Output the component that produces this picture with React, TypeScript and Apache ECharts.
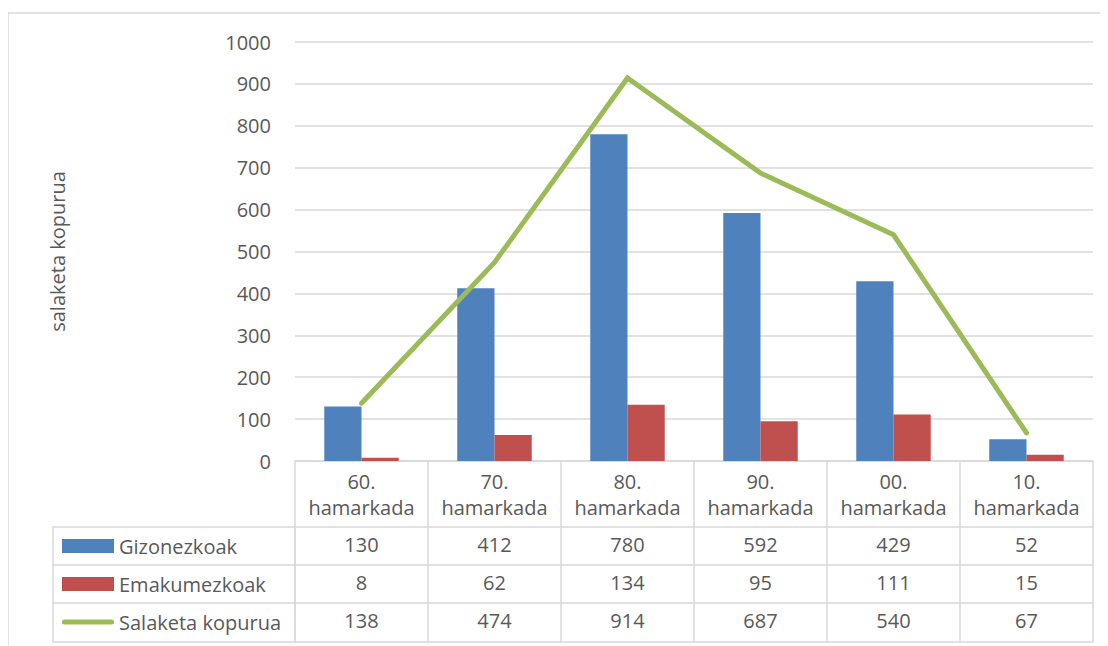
import React, { useEffect, useRef } from "react";
import * as echarts from "echarts";

const categories = ["60.\nhamarkada", "70.\nhamarkada", "80.\nhamarkada", "90.\nhamarkada", "00.\nhamarkada", "10.\nhamarkada"];
const gizonezkoak = [130, 412, 780, 592, 429, 52];
const emakumezkoak = [8, 62, 134, 95, 111, 15];
const salaketaKopurua = [138, 474, 914, 687, 540, 67];
const seriesNames = ["Gizonezkoak", "Emakumezkoak", "Salaketa kopurua"];
const yAxisName = "salaketa kopurua";

const FONT = "'Open Sans', sans-serif";
const TEXT = "#595959";
const GRID = "#D9D9D9";
const BLUE = "#4F81BD";
const RED = "#C0504D";
const GREEN = "#9BBB59";
const LINE_ICON = "path://M2.5,0 L49.5,0 A2.5,2.5 0 0 1 49.5,5 L2.5,5 A2.5,2.5 0 0 1 2.5,0 Z";

export default function App() {
  const ref = useRef<HTMLDivElement>(null);
  useEffect(() => {
    if (!ref.current) return;
    const chart = echarts.init(ref.current, null, { renderer: "svg" });
    const rowAxes = [gizonezkoak, emakumezkoak, salaketaKopurua].map((vals, i) => ({
      type: "category",
      gridIndex: 0,
      position: "bottom",
      offset: 66 + i * 38,
      data: vals.map(String),
      axisLine: { show: true, lineStyle: { color: GRID, width: 1.5 } },
      axisTick: { show: false },
      axisLabel: { color: TEXT, fontFamily: FONT, fontSize: 20, lineHeight: 26, margin: 4, interval: 0 },
    }));
    const bottomAxis = {
      type: "category",
      gridIndex: 0,
      position: "bottom",
      offset: 181,
      data: categories.map(() => ""),
      axisLine: { show: true, lineStyle: { color: GRID, width: 1.5 } },
      axisTick: { show: false },
      axisLabel: { show: false },
    };
    chart.setOption({
      animation: false,
      backgroundColor: "#fff",
      textStyle: { fontFamily: FONT },
      grid: { left: 287, right: 15, top: 34, bottom: 185, containLabel: false },
      legend: {
        orient: "vertical",
        left: 49,
        top: 523,
        itemGap: 18,
        itemWidth: 52,
        itemHeight: 14,
        symbolKeepAspect: true,
        textStyle: { color: TEXT, fontFamily: FONT, fontSize: 20, lineHeight: 20 },
        data: [
          { name: seriesNames[0], icon: "rect" },
          { name: seriesNames[1], icon: "rect" },
          { name: seriesNames[2], icon: LINE_ICON, itemStyle: { color: GREEN } },
        ],
      },
      xAxis: [
        {
          type: "category",
          gridIndex: 0,
          position: "bottom",
          data: categories,
          boundaryGap: true,
          axisLine: { show: true, lineStyle: { color: GRID, width: 1.5 } },
          axisTick: { show: true, interval: 0, length: 181, lineStyle: { color: GRID, width: 1.5 } },
          axisLabel: { color: TEXT, fontFamily: FONT, fontSize: 20, lineHeight: 26, margin: 7, interval: 0 },
        },
        ...rowAxes,
        bottomAxis,
      ],
      yAxis: {
        type: "value",
        min: 0,
        max: 1000,
        interval: 100,
        name: yAxisName,
        nameLocation: "middle",
        nameRotate: 90,
        nameGap: 228,
        nameTextStyle: { color: TEXT, fontFamily: FONT, fontSize: 20 },
        axisLine: { show: false },
        axisTick: { show: false },
        axisLabel: { color: TEXT, fontFamily: FONT, fontSize: 20, margin: 24, formatter: (v: number) => String(v) },
        splitLine: { lineStyle: { color: GRID, width: 1.5 } },
      },
      graphic: [
        { type: "rect", shape: { x: 0, y: 5, width: 1120, height: 700 }, style: { fill: "none", stroke: GRID, lineWidth: 1.5 }, silent: true },
        { type: "rect", shape: { x: 45, y: 519, width: 242, height: 115 }, style: { fill: "none", stroke: GRID, lineWidth: 1.5 }, silent: true },
        { type: "line", shape: { x1: 45, y1: 557, x2: 287, y2: 557 }, style: { stroke: GRID, lineWidth: 1.5 }, silent: true },
        { type: "line", shape: { x1: 45, y1: 595, x2: 287, y2: 595 }, style: { stroke: GRID, lineWidth: 1.5 }, silent: true },
      ],
      series: [
        {
          name: seriesNames[0],
          type: "bar",
          xAxisIndex: 0,
          data: gizonezkoak,
          itemStyle: { color: BLUE },
          barGap: "0%",
          barCategoryGap: "44%",
        },
        {
          name: seriesNames[1],
          type: "bar",
          xAxisIndex: 0,
          data: emakumezkoak,
          itemStyle: { color: RED },
          barGap: "0%",
          barCategoryGap: "44%",
        },
        {
          name: seriesNames[2],
          type: "line",
          xAxisIndex: 0,
          data: salaketaKopurua,
          symbol: "none",
          lineStyle: { color: GREEN, width: 5, cap: "round", join: "miter" },
          itemStyle: { color: GREEN },
          z: 5,
        },
      ],
    });
    return () => chart.dispose();
  }, []);
  return <div ref={ref} style={{ width: 1100, height: 638 }} />;
}
